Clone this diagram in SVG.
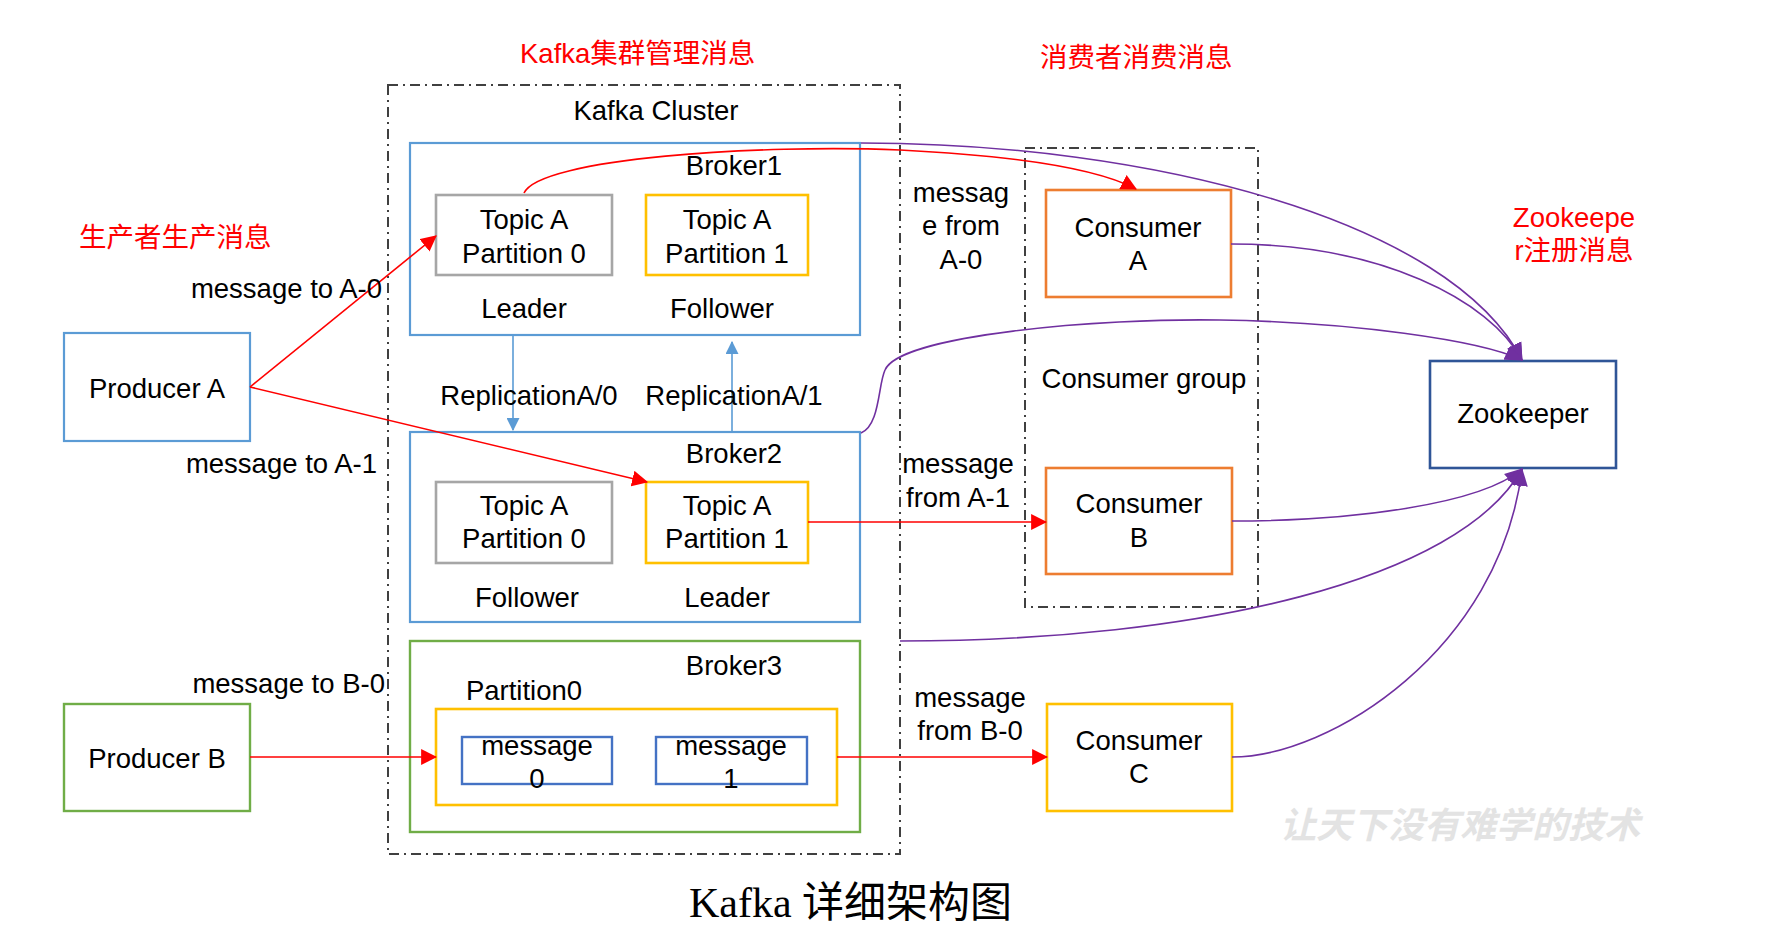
<svg xmlns="http://www.w3.org/2000/svg" width="1792" height="938" viewBox="0 0 1792 938">
<style>
text{font-family:"Liberation Sans",Arial,"Noto Sans CJK SC",sans-serif;font-size:27.5px;fill:#000;text-anchor:middle}
.red{fill:#FF0000;text-anchor:start}
.box{fill:#fff;stroke-width:2.2}
.blue{stroke:#5B9BD5}
.gray{stroke:#A6A6A6;stroke-width:2.6}
.yel{stroke:#FFC000;stroke-width:2.6}
.org{stroke:#ED7D31;stroke-width:2.6}
.grn{stroke:#70AD47;stroke-width:2.4}
.msg{stroke:#4472C4;stroke-width:2.4;fill:none}
.dash{fill:none;stroke:#404040;stroke-width:2;stroke-dasharray:10 5 2 5}
.rl{fill:none;stroke:#FF0000;stroke-width:1.6}
.pl{fill:none;stroke:#7030A0;stroke-width:1.6}
.bl{fill:none;stroke:#5B9BD5;stroke-width:1.6}
</style>
<defs>
<marker id="ar" markerUnits="userSpaceOnUse" markerWidth="16" markerHeight="16" viewBox="0 0 14 14" refX="13" refY="7" orient="auto"><path d="M0,0 L14,7 L0,14 Z" fill="#FF0000"/></marker>
<marker id="ap" markerUnits="userSpaceOnUse" markerWidth="18" markerHeight="18" viewBox="0 0 16 14" refX="15" refY="7" orient="auto"><path d="M0,0 L16,7 L0,14 Z" fill="#7030A0"/></marker>
<marker id="ab" markerUnits="userSpaceOnUse" markerWidth="13" markerHeight="13" viewBox="0 0 12 12" refX="11" refY="6" orient="auto"><path d="M0,0 L12,6 L0,12 Z" fill="#5B9BD5"/></marker>
</defs>
<rect width="1792" height="938" fill="#fff"/>

<text class="red" x="520" y="63">Kafka集群管理消息</text>
<text class="red" x="1040" y="67">消费者消费消息</text>
<text class="red" x="79" y="247">生产者生产消息</text>
<text class="red" x="1574" y="227" style="text-anchor:middle">Zookeepe</text>
<text class="red" x="1574" y="260" style="text-anchor:middle">r注册消息</text>

<g id="cluster">
<rect class="dash" x="388" y="85" width="512" height="769"/>
<text x="656" y="120">Kafka Cluster</text>
</g>
<g id="consumer-group">
<rect class="dash" x="1025" y="148" width="233" height="459"/>
<text x="1144" y="388">Consumer group</text>
</g>

<g id="broker1">
<rect class="box blue" x="410" y="143" width="450" height="192"/>
<text x="734" y="175">Broker1</text>
<text x="524" y="318">Leader</text>
<text x="722" y="318">Follower</text>
</g>
<g id="b1-p0">
<rect class="box gray" x="436" y="195" width="176" height="80"/>
<text x="524" y="229">Topic A</text>
<text x="524" y="263">Partition 0</text>
</g>
<g id="b1-p1">
<rect class="box yel" x="646" y="195" width="162" height="80"/>
<text x="727" y="229">Topic A</text>
<text x="727" y="263">Partition 1</text>
</g>

<g id="broker2">
<rect class="box blue" x="410" y="432" width="450" height="190"/>
<text x="734" y="463">Broker2</text>
<text x="527" y="607">Follower</text>
<text x="727" y="607">Leader</text>
</g>
<g id="b2-p0">
<rect class="box gray" x="436" y="482" width="176" height="81"/>
<text x="524" y="515">Topic A</text>
<text x="524" y="548">Partition 0</text>
</g>
<g id="b2-p1">
<rect class="box yel" x="646" y="482" width="162" height="81"/>
<text x="727" y="515">Topic A</text>
<text x="727" y="548">Partition 1</text>
</g>

<g id="broker3">
<rect class="box grn" x="410" y="641" width="450" height="191"/>
<text x="734" y="675">Broker3</text>
<text x="524" y="700">Partition0</text>
</g>
<g id="b3-p0">
<rect class="box yel" x="436" y="709" width="401" height="96"/>
</g>
<g id="msg0">
<rect class="msg" x="462" y="737" width="150" height="47"/>
<text x="537" y="755">message</text>
<text x="537" y="788">0</text>
</g>
<g id="msg1">
<rect class="msg" x="656" y="737" width="151" height="47"/>
<text x="731" y="755">message</text>
<text x="731" y="788">1</text>
</g>

<g id="producerA">
<rect class="box blue" x="64" y="333" width="186" height="108"/>
<text x="157" y="398">Producer A</text>
</g>
<g id="producerB">
<rect class="box grn" x="64" y="704" width="186" height="107"/>
<text x="157" y="768">Producer B</text>
</g>

<g id="consumerA">
<rect class="box org" x="1046" y="190" width="185" height="107"/>
<text x="1138" y="237">Consumer</text>
<text x="1138" y="270">A</text>
</g>
<g id="consumerB">
<rect class="box org" x="1046" y="468" width="186" height="106"/>
<text x="1139" y="513">Consumer</text>
<text x="1139" y="547">B</text>
</g>
<g id="consumerC">
<rect class="box yel" x="1047" y="704" width="185" height="107"/>
<text x="1139" y="750">Consumer</text>
<text x="1139" y="783">C</text>
</g>

<g id="zookeeper">
<rect class="box" x="1430" y="361" width="186" height="107" style="stroke:#2F5597;stroke-width:2.6"/>
<text x="1523" y="423">Zookeeper</text>
</g>

<g id="connectors">
<path class="rl" d="M250,387 L436,236" marker-end="url(#ar)"/>
<path class="rl" d="M250,387 L647,482" marker-end="url(#ar)"/>
<path class="rl" d="M524,193 C540,158 760,144 900,150 C1020,156 1100,170 1136,189" marker-end="url(#ar)"/>
<path class="rl" d="M808,522 L1046,522" marker-end="url(#ar)"/>
<path class="rl" d="M250,757 L436,757" marker-end="url(#ar)"/>
<path class="rl" d="M837,757 L1047,757" marker-end="url(#ar)"/>
<path class="bl" d="M513,335 L513,430" marker-end="url(#ab)"/>
<path class="bl" d="M732,432 L732,342" marker-end="url(#ab)"/>
<path class="pl" d="M861,143 C1150,143 1450,220 1522,360" marker-end="url(#ap)"/>
<path class="pl" d="M1231,244 C1380,244 1490,300 1522,360" marker-end="url(#ap)"/>
<path class="pl" d="M861,433 C880,425 878,385 885,370 C900,335 1100,318 1220,320 C1350,322 1480,340 1522,360" marker-end="url(#ap)"/>
<path class="pl" d="M1232,521 C1350,521 1480,505 1522,469" marker-end="url(#ap)"/>
<path class="pl" d="M900,641 C1200,641 1460,580 1522,469" marker-end="url(#ap)"/>
<path class="pl" d="M1232,757 C1330,757 1500,650 1522,469" marker-end="url(#ap)"/>
</g>

<g id="edge-labels">
<text x="529" y="405">ReplicationA/0</text>
<text x="734" y="405">ReplicationA/1</text>
<text x="382" y="298" style="text-anchor:end">message to A-0</text>
<text x="377" y="473" style="text-anchor:end">message to A-1</text>
<text x="385" y="693" style="text-anchor:end">message to B-0</text>
<text x="961" y="202">messag</text>
<text x="961" y="235">e from</text>
<text x="961" y="269">A-0</text>
<text x="958" y="473">message</text>
<text x="958" y="507">from A-1</text>
<text x="970" y="707">message</text>
<text x="970" y="740">from B-0</text>
</g>

<text x="1460" y="838" style="font-family:'Noto Sans CJK SC',sans-serif;font-size:36px;font-style:italic;font-weight:bold;fill:#e3e3e3">让天下没有难学的技术</text>
<text x="689" y="917" style="font-family:'Liberation Serif','Noto Sans CJK SC',serif;font-size:42px;text-anchor:start">Kafka 详细架构图</text>
</svg>
